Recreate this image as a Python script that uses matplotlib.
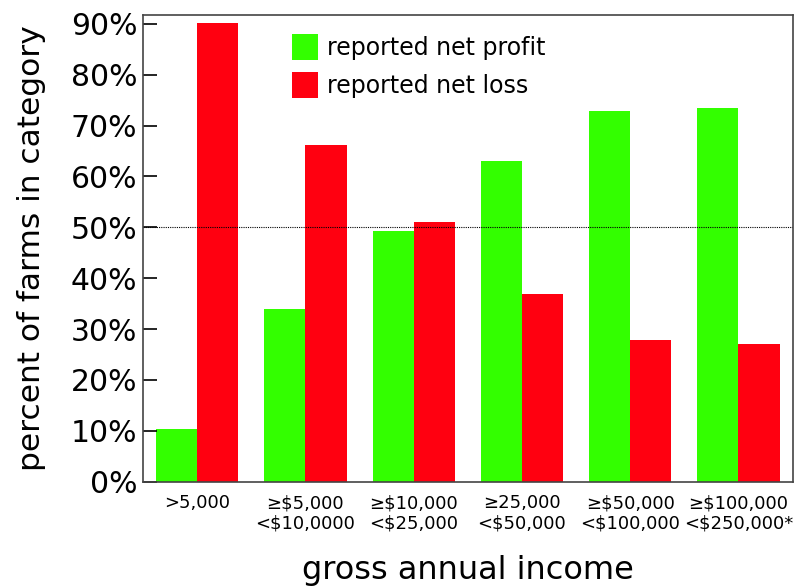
import numpy as np
import matplotlib.pyplot as plt
from matplotlib.ticker import FuncFormatter

# Data
categories = ['>5,000', '≥$5,000\n<$10,0000', '≥$10,000\n<$25,000',
              '≥25,000\n<$50,000', '≥$50,000\n<$100,000', '≥$100,000\n<$250,000*']
net_profit = [10.4, 34.0, 49.3, 63.0, 72.8, 73.4]
net_loss = [90.2, 66.2, 51.0, 36.9, 27.8, 27.0]

fig = plt.figure(figsize=(7.99, 5.86), dpi=100)
ax = fig.add_axes([0.179, 0.178, 0.813, 0.797])

x = np.arange(len(categories))
w = 0.38
ax.bar(x - w / 2, net_profit, w, color='#33ff00', label='reported net profit')
ax.bar(x + w / 2, net_loss, w, color='#ff0010', label='reported net loss')

# 50% reference line
ax.axhline(50, color='black', linestyle=(0, (1, 1)), linewidth=0.8)

ax.set_xlim(-0.5, len(categories) - 0.5)
ax.set_ylim(0, 91.8)
ax.set_yticks(np.arange(0, 91, 10))
ax.yaxis.set_major_formatter(FuncFormatter(lambda v, p: f'{v:.0f}%'))
ax.tick_params(axis='y', direction='in', length=10, width=1.2, labelsize=21.5, pad=4)
ax.set_xticks(x)
ax.set_xticklabels(categories, fontsize=13)
ax.tick_params(axis='x', length=0, pad=9)

for s in ax.spines.values():
    s.set_color('#444444')
    s.set_linewidth(1.2)

ax.set_ylabel('percent of farms in category', fontsize=22.5, labelpad=18)
ax.set_xlabel('gross annual income', fontsize=23, labelpad=16)

ax.legend(loc='upper left', bbox_to_anchor=(0.196, 1.003), fontsize=17, frameon=False,
          handlelength=1.1, handleheight=1.3, handletextpad=0.4, labelspacing=0.5)

fig.savefig('out.png', dpi=100)
